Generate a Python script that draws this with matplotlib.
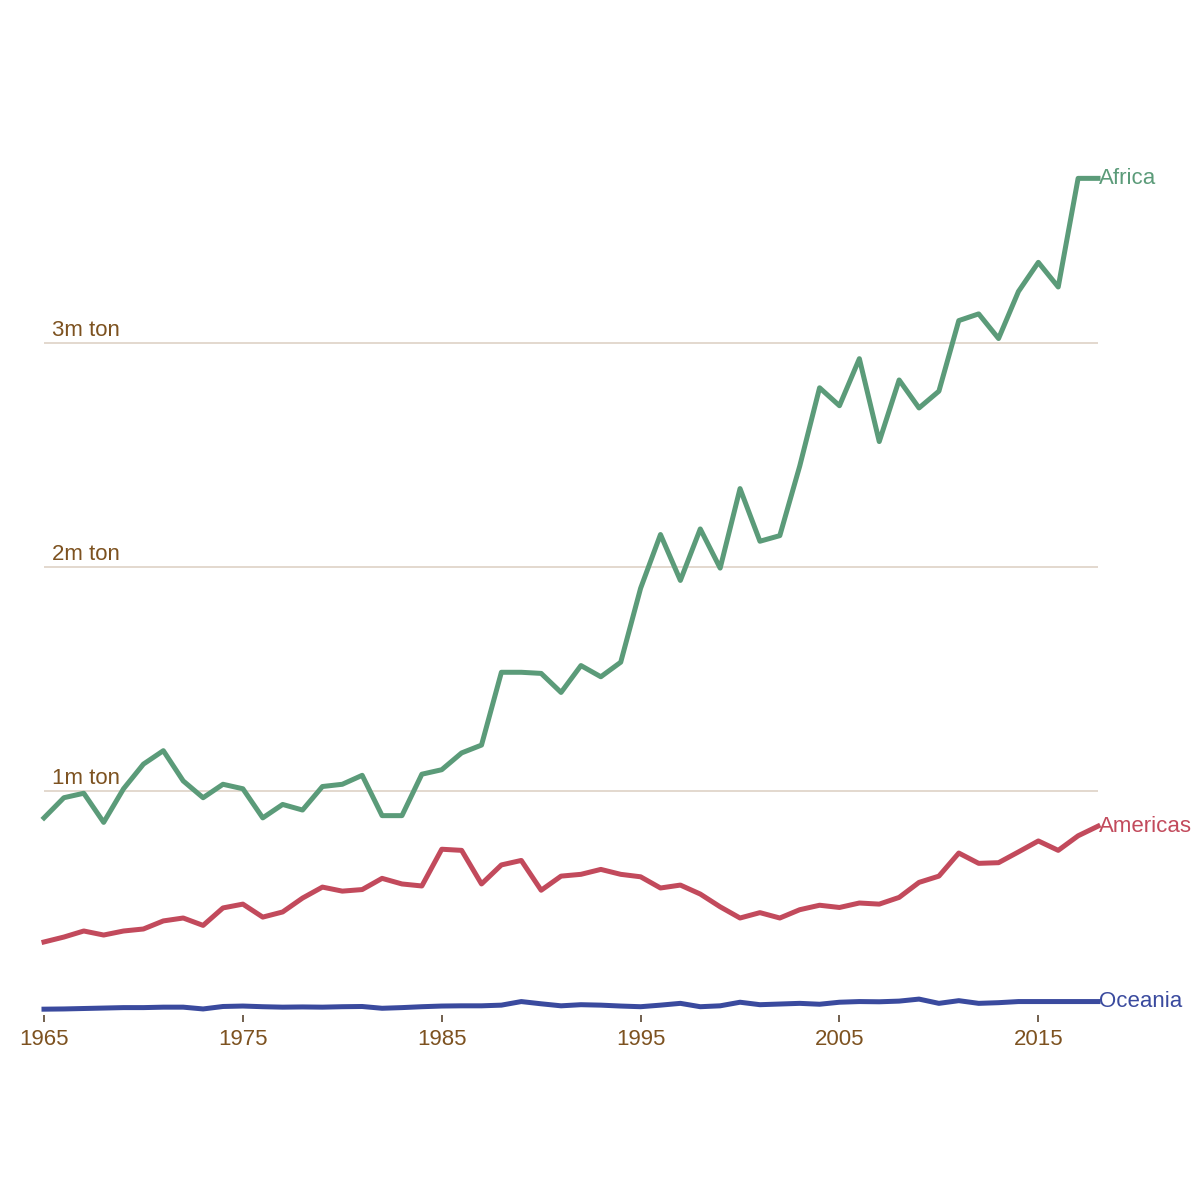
import numpy as np
import matplotlib.pyplot as plt

years = list(range(1965, 2019))

africa = [0.88, 0.97, 0.99, 0.86, 1.01, 1.12, 1.18, 1.045, 0.97, 1.03,
          1.01, 0.88, 0.94, 0.915, 1.02, 1.03, 1.07, 0.89, 0.89, 1.075,
          1.095, 1.17, 1.205, 1.53, 1.53, 1.525, 1.44, 1.56, 1.51, 1.575,
          1.905, 2.145, 1.94, 2.17, 1.995, 2.35, 2.115, 2.14, 2.45, 2.80,
          2.72, 2.93, 2.56, 2.835, 2.71, 2.785, 3.10, 3.13, 3.02, 3.23,
          3.36, 3.25, 3.735, 3.735]

americas = [0.326, 0.348, 0.375, 0.357, 0.375, 0.384, 0.42, 0.433, 0.40, 0.478,
            0.495, 0.437, 0.46, 0.522, 0.571, 0.553, 0.56, 0.61, 0.585, 0.576,
            0.74, 0.735, 0.585, 0.67, 0.69, 0.557, 0.62, 0.628, 0.65, 0.628,
            0.617, 0.567, 0.58, 0.54, 0.483, 0.433, 0.457, 0.433, 0.47, 0.49,
            0.48, 0.50, 0.495, 0.525, 0.592, 0.62, 0.723, 0.677, 0.68, 0.728,
            0.777, 0.735, 0.80, 0.843]

oceania = [0.026, 0.027, 0.029, 0.031, 0.033, 0.033, 0.035, 0.035, 0.027, 0.038,
           0.040, 0.037, 0.035, 0.036, 0.035, 0.037, 0.038, 0.030, 0.033, 0.037,
           0.040, 0.041, 0.041, 0.044, 0.060, 0.050, 0.041, 0.046, 0.044, 0.040,
           0.037, 0.044, 0.052, 0.037, 0.041, 0.057, 0.046, 0.049, 0.052, 0.048,
           0.057, 0.060, 0.059, 0.062, 0.071, 0.052, 0.064, 0.052, 0.055, 0.060,
           0.060, 0.060, 0.060, 0.060]

series = [('Africa', africa, '#5b9b79'),
          ('Americas', americas, '#c24a5c'),
          ('Oceania', oceania, '#3a4a9e')]

grid_vals = [1, 2, 3]
grid_labels = ['1m ton', '2m ton', '3m ton']
xticks = [1965, 1975, 1985, 1995, 2005, 2015]

brown = '#7d5220'

plt.rcParams['font.family'] = ['Liberation Sans', 'DejaVu Sans']

fig = plt.figure(figsize=(12, 12), dpi=100)
ax = fig.add_axes([44 / 1200, 185 / 1200, 1054 / 1200, 896 / 1200])

for v, lab in zip(grid_vals, grid_labels):
    ax.axhline(v, color='#e0d6ca', lw=1.3, zorder=1)
    ax.annotate(lab, xy=(years[0], v), xytext=(6, 1.5), textcoords='offset points',
                fontsize=16, color=brown, ha='left', va='bottom')

for name, vals, col in series:
    ax.plot(years, vals, color=col, lw=3.6, clip_on=False, zorder=3)
    ax.annotate(name, xy=(years[-1], vals[-1]), xytext=(0.5, 0), textcoords='offset points',
                fontsize=16, color=col, ha='left', va='center')

ax.set_xlim(1965, 2018)
ax.set_ylim(0, 4.0)
ax.set_yticks([])
ax.set_xticks(xticks)
ax.set_xticklabels([str(t) for t in xticks])
ax.tick_params(axis='x', direction='out', length=5, width=1.2, color='#5a4530',
               labelsize=16, labelcolor=brown, pad=5)
for s in ax.spines.values():
    s.set_visible(False)

fig.savefig('out.png', dpi=100, facecolor='white')
